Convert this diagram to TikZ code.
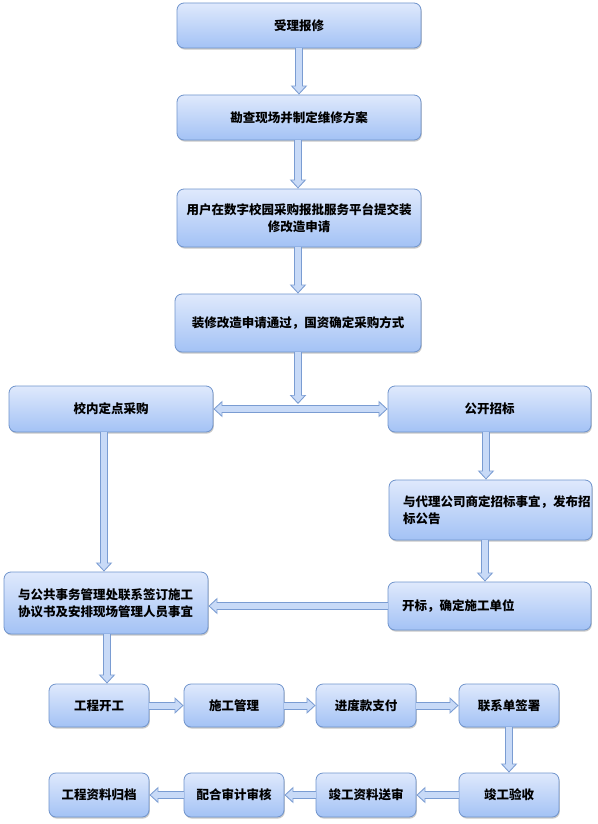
\documentclass[tikz,border=0pt]{standalone}
\usepackage{fontspec}
\usepackage{tikz}
\usetikzlibrary{arrows.meta,shadows}
\newfontfamily\cjk{Noto Sans CJK SC}

\definecolor{boxtop}{RGB}{223,233,252}
\definecolor{boxbot}{RGB}{163,194,245}
\definecolor{boxedge}{RGB}{112,148,204}
\definecolor{arrowfill}{RGB}{200,218,247}
\definecolor{arrowline}{RGB}{122,156,210}

\tikzset{
  flowbox/.style={rounded corners=7pt, draw=boxedge, line width=0.8pt,
    top color=boxtop, bottom color=boxbot, inner sep=0pt,
    drop shadow={shadow xshift=0.8pt, shadow yshift=-1.6pt, opacity=0.3, fill=black!70},
    font=\cjk\bfseries\fontsize{12.5}{17}\selectfont},
  tipout/.tip={Triangle[width=16pt,length=9pt]},
  tipin/.tip={Triangle[width=12pt,length=6.8pt]},
  arrowedge/.style={draw=arrowline, line width=8pt},
  arrowbody/.style={draw=arrowfill, line width=6pt},
}
\newcommand{\flowarrow}[2]{%
  \draw[arrowedge,-tipout] #1 -- #2;
  \draw[arrowbody,-tipin,shorten >=1.5pt] #1 -- #2;}

\begin{document}
\begin{tikzpicture}[x=1pt,y=-1pt]
\fill[white] (0,0) rectangle (597,824);
\useasboundingbox (0,0) rectangle (597,824);

% main column
\node[flowbox, minimum width=244pt, minimum height=45pt] (b1) at (299,25.5) {受理报修};
\node[flowbox, minimum width=244pt, minimum height=45pt] (b2) at (299,117.5) {勘查现场并制定维修方案};
\node[flowbox, minimum width=244pt, minimum height=58pt, align=center] (b3) at (299,218)
  {用户在数字校园采购报批服务平台提交装\\修改造申请};
\node[flowbox, minimum width=246pt, minimum height=58pt] (b4) at (298,323) {装修改造申请通过，国资确定采购方式};

% two ways
\node[flowbox, minimum width=204pt, minimum height=46pt] (b5) at (111,409) {校内定点采购};
\node[flowbox, minimum width=203pt, minimum height=46pt] (b6) at (489.5,409) {公开招标};
\node[flowbox, minimum width=203pt, minimum height=60pt, text width=175pt, align=left] (b7) at (490.5,510)
  {与代理公司商定招标事宜，发布招\\标公告};
\node[flowbox, minimum width=203pt, minimum height=48pt, text width=175pt, align=left] (b8) at (489.5,606)
  {开标，确定施工单位};
\node[flowbox, minimum width=204pt, minimum height=62pt, text width=176pt, align=left] (b9) at (106,603)
  {与公共事务管理处联系签订施工\\协议书及安排现场管理人员事宜};

% construction
\node[flowbox, minimum width=100pt, minimum height=43pt] (c1) at (99,705.5) {工程开工};
\node[flowbox, minimum width=100pt, minimum height=43pt] (c2) at (234,705.5) {施工管理};
\node[flowbox, minimum width=100pt, minimum height=43pt] (c3) at (366,705.5) {进度款支付};
\node[flowbox, minimum width=100pt, minimum height=43pt] (c4) at (509,705.5) {联系单签署};
\node[flowbox, minimum width=100pt, minimum height=44pt] (d1) at (509,795) {竣工验收};
\node[flowbox, minimum width=100pt, minimum height=44pt] (d2) at (366,795) {竣工资料送审};
\node[flowbox, minimum width=100pt, minimum height=44pt] (d3) at (234,795) {配合审计审核};
\node[flowbox, minimum width=100pt, minimum height=44pt] (d4) at (99,795) {工程资料归档};

\coordinate (split) at (298,404);

\flowarrow{(b1.south)}{(b2.north)}
\flowarrow{([xshift=-1pt]b2.south)}{([xshift=-1pt]b3.north)}
\flowarrow{([xshift=-1pt]b3.south)}{(b4.north)}
\flowarrow{(b4.south)}{(split)}

\draw[arrowedge,tipout-tipout] (b5.east) -- (b6.west);
\draw[arrowbody,tipin-tipin,shorten >=1.5pt,shorten <=1.5pt] (b5.east) -- (b6.west);

\flowarrow{([xshift=-7pt]b5.south)}{([xshift=-2pt]b9.north)}
\flowarrow{([xshift=-3.5pt]b6.south)}{([xshift=-4.5pt]b7.north)}
\flowarrow{([xshift=-5.5pt]b7.south)}{([xshift=-4.5pt]b8.north)}
\flowarrow{(b8.west)}{(b8.west -| b9.east)}
\flowarrow{([xshift=1pt]b9.south)}{([xshift=8pt]c1.north)}

\flowarrow{(c1.east)}{(c2.west)}
\flowarrow{(c2.east)}{(c3.west)}
\flowarrow{(c3.east)}{(c4.west)}
\flowarrow{(c4.south)}{(d1.north)}
\flowarrow{(d1.west)}{(d2.east)}
\flowarrow{(d2.west)}{(d3.east)}
\flowarrow{(d3.west)}{(d4.east)}
\end{tikzpicture}
\end{document}
